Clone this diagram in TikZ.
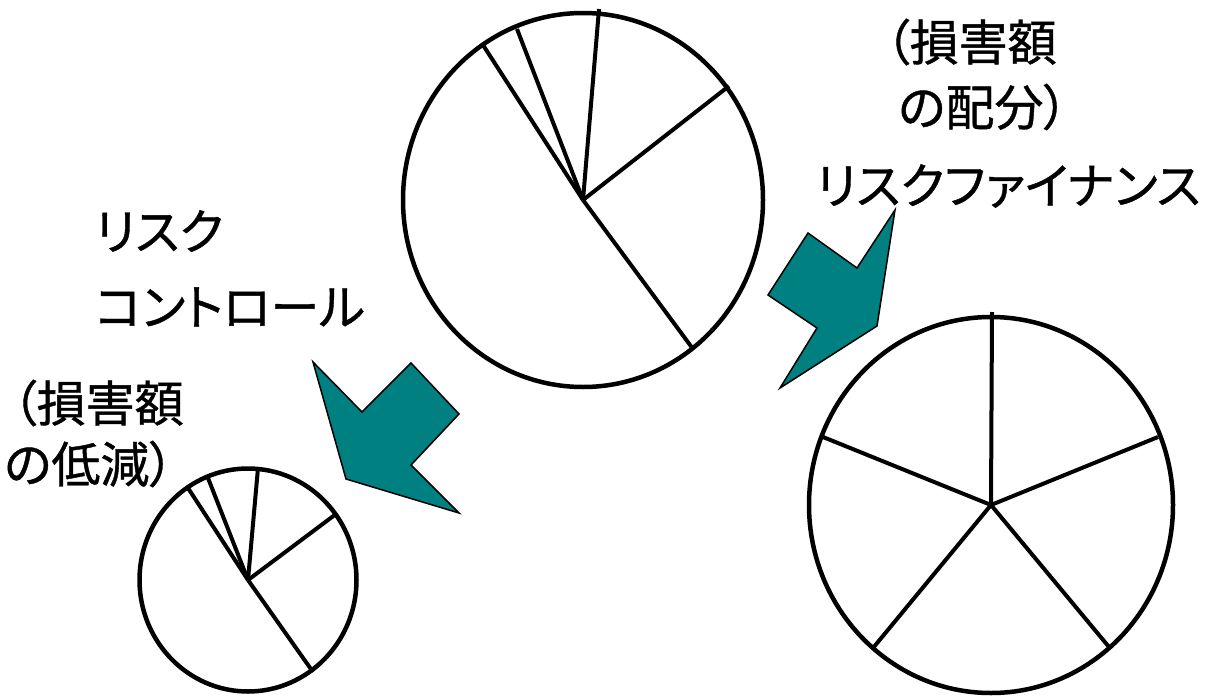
\documentclass[tikz,border=0pt]{standalone}
\usepackage{fontspec}
\setmainfont[RawFeature=+palt, FakeBold=0.8]{Noto Sans CJK JP}
\definecolor{arrowfill}{RGB}{0,128,128}
\tikzset{
  pie/.style={line width=4.5pt},
  spoke/.style={line width=4pt},
  bigarrow/.style={fill=arrowfill, draw=black, line width=1.5pt, line join=miter},
  lbl/.style={anchor=west, inner sep=0pt, font=\fontsize{49}{54}\selectfont}
}
\begin{document}
\begin{tikzpicture}[x=1pt,y=-1pt]
        \useasboundingbox (0,0) rectangle (1205,696);
        \coordinate (big) at (583,200);
        \coordinate (small) at (248,580);
        \coordinate (even) at (991,505);
        \draw[pie] (big) ellipse [x radius=180, y radius=187];
        \draw[pie] (small) ellipse [x radius=108.5, y radius=111.5];
        \draw[pie] (even) ellipse [x radius=182, y radius=188];
        \foreach \p in {(599,9),(729,86),(693,349),(483,45),(517,29)}
          \draw[spoke] (big) -- \p;
        \foreach \p in {(258,468),(336,514),(313,672),(188,488),(208,478)}
          \draw[spoke] (small) -- \p;
        \foreach \p in {(992,312),(1158,437),(1109,647),(873,648),(823,437)}
          \draw[spoke] (even) -- \p;
        \draw[bigarrow] (313,362) -- (362,412) -- (411,363) -- (459,414)
          -- (411,465) -- (459,513) -- (346,479) -- cycle;
        \draw[bigarrow] (808,233) -- (857,268) -- (895,210) -- (877,326)
          -- (780,388) -- (817,328) -- (768,295) -- cycle;
        \node (fin1) [lbl] at (885,42) {（損害額};
        \node (fin2) [lbl] at (898,107) {の配分）};
        \node (fin3) [lbl] at (816,186) {リスクファイナンス};
        \node (ctl1) [lbl] at (95,231) {リスク};
        \node (ctl2) [lbl] at (95,307) {コントロール};
        \node (ctl3) [lbl] at (12,403) {（損害額};
        \node (ctl4) [lbl] at (4,464) {の低減）};
    \end{tikzpicture}
\end{document}
